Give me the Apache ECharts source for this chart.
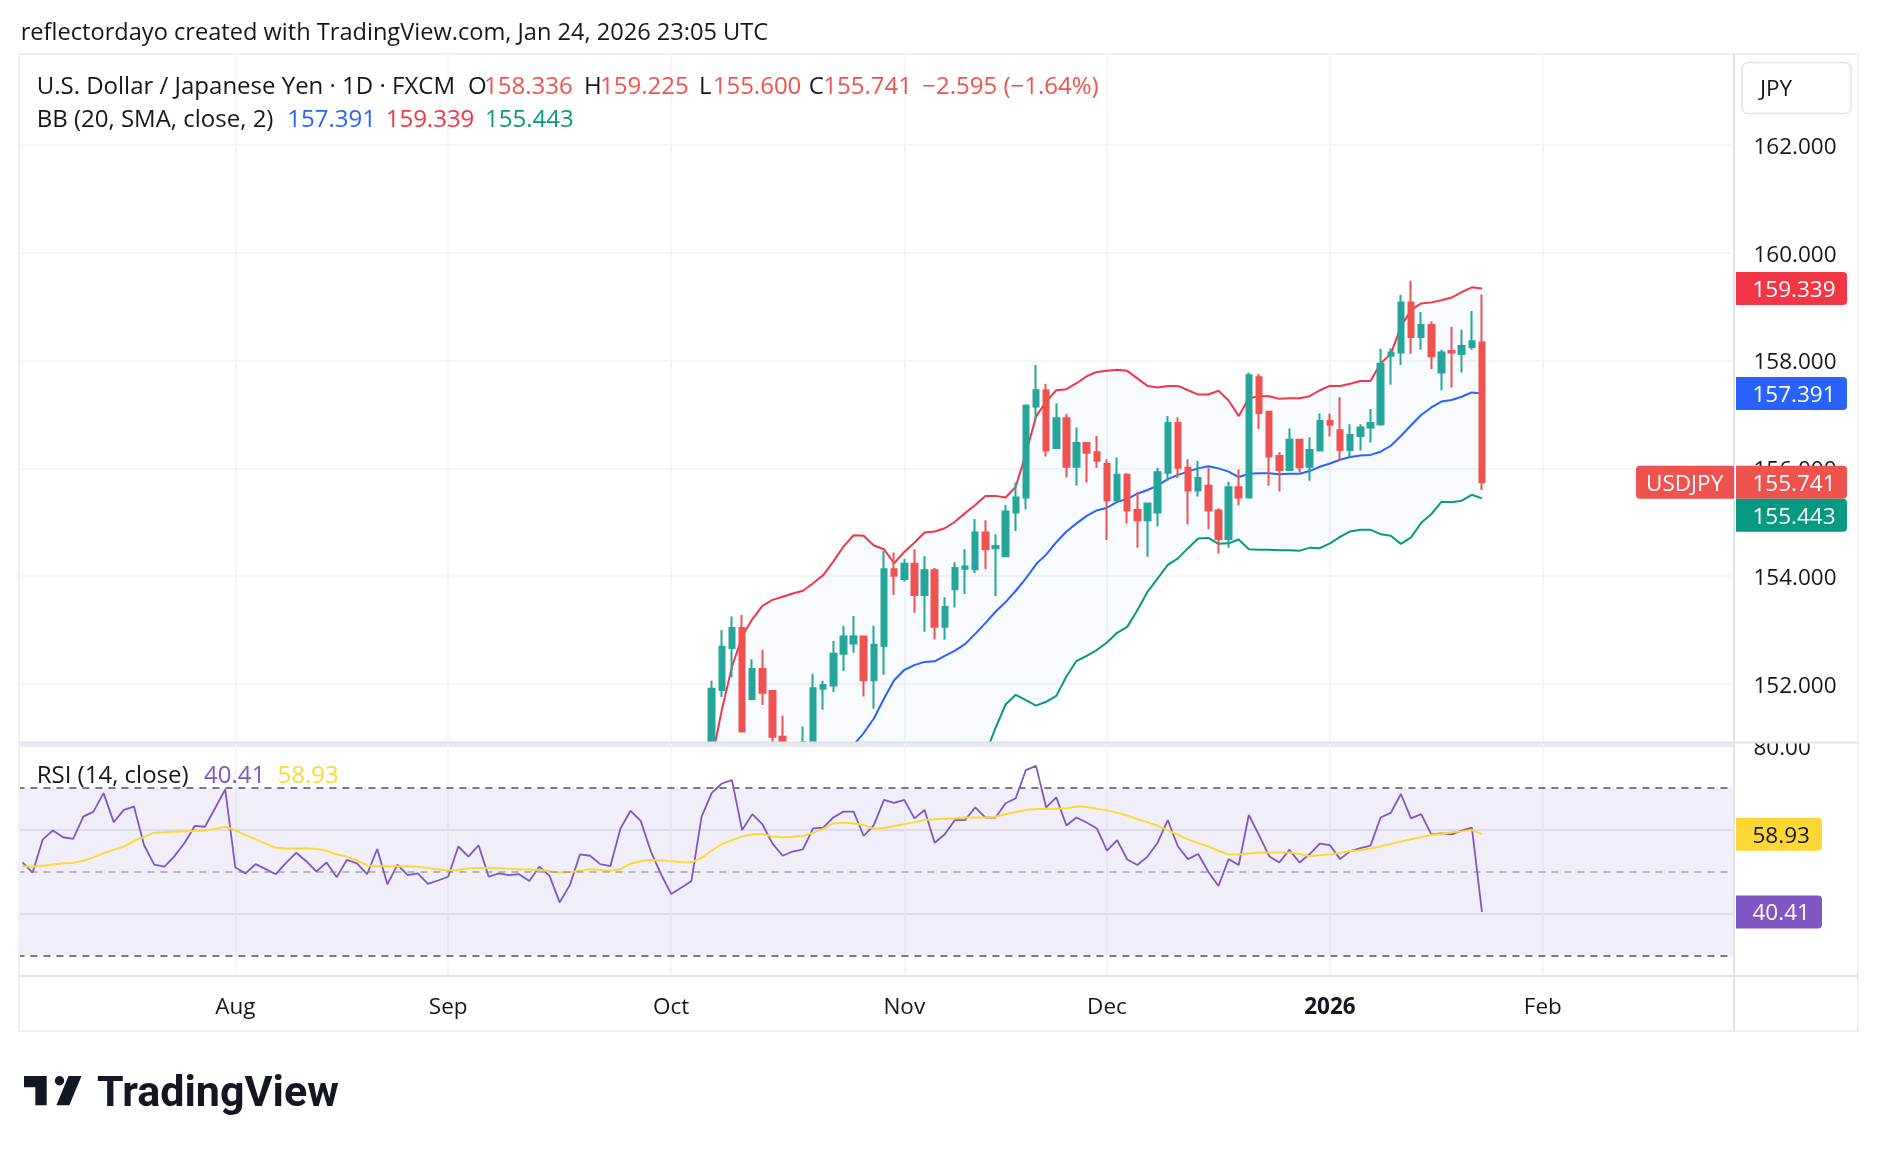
<!DOCTYPE html>
<html>
<head>
<meta charset="utf-8">
<title>USDJPY 1D</title>
<script src="https://cdn.jsdelivr.net/npm/echarts@6.0.0/dist/echarts.min.js"></script>
<style>
  html, body { margin: 0; padding: 0; background: #fff; }
  #main { width: 1878px; height: 1152px; }
</style>
</head>
<body>
<div id="main"></div>
<script>
// 颜色、字体
const TXT = '#131722'
const GRID_COLOR = '#f0f3fa'
const SEP_COLOR = '#e0e3eb'
const UP = '#26a69a'
const DOWN = '#ef5350'
const FAMILY = '"Open Sans", "Noto Sans", sans-serif'
const FONT = '24px ' + FAMILY

// 主图价格范围（可见窗口）
const PRICE_MIN = 150.924
const PRICE_MAX = 163.688

// 日期：从 2025-07-03 起的交易日（跳过 12-25、01-01）
const skipDays = ['2025-12-25', '2026-01-01']
const monthNames = ['Jan', 'Feb', 'Mar', 'Apr', 'May', 'Jun', 'Jul', 'Aug', 'Sep', 'Oct', 'Nov', 'Dec']

// K 线 [open, close, low, high]，2025-10-07 ~ 2026-01-23
const FIRST_BAR = 68
const ohlc = [
  [150.60, 151.91, 150.50, 152.06],
  [151.89, 152.69, 151.76, 153.00],
  [152.67, 153.04, 152.12, 153.25],
  [153.04, 151.12, 151.10, 153.28],
  [151.72, 152.28, 151.70, 152.46],
  [152.28, 151.84, 151.61, 152.63],
  [151.87, 151.02, 150.85, 151.89],
  [151.02, 150.70, 150.50, 151.41],
  [150.70, 150.45, 150.25, 150.85],
  [150.40, 150.85, 150.20, 151.21],
  [150.85, 151.92, 150.70, 152.19],
  [151.91, 151.98, 151.52, 152.06],
  [151.97, 152.56, 151.85, 152.80],
  [152.56, 152.88, 152.24, 153.08],
  [152.75, 152.88, 152.58, 153.26],
  [152.88, 152.07, 151.77, 152.90],
  [152.07, 152.73, 151.54, 153.08],
  [152.71, 154.13, 152.17, 154.47],
  [154.13, 154.01, 153.65, 154.44],
  [153.95, 154.23, 153.90, 154.32],
  [154.23, 153.65, 153.32, 154.50],
  [153.65, 154.11, 152.97, 154.37],
  [154.11, 153.06, 152.83, 154.15],
  [153.06, 153.43, 152.82, 153.61],
  [153.76, 154.15, 153.42, 154.26],
  [154.14, 154.18, 153.67, 154.50],
  [154.13, 154.81, 154.06, 155.06],
  [154.81, 154.50, 154.13, 155.04],
  [154.52, 154.56, 153.63, 154.78],
  [154.37, 155.20, 154.35, 155.32],
  [155.18, 155.46, 154.84, 155.74],
  [155.46, 157.16, 155.24, 157.19],
  [157.15, 157.45, 156.90, 157.92],
  [157.45, 156.33, 156.22, 157.57],
  [156.38, 156.93, 156.36, 157.21],
  [156.93, 156.03, 155.83, 157.01],
  [156.03, 156.47, 155.68, 156.76],
  [156.47, 156.29, 155.74, 156.48],
  [156.30, 156.14, 156.01, 156.60],
  [156.08, 155.41, 154.67, 156.17],
  [155.41, 155.88, 155.40, 156.20],
  [155.88, 155.22, 154.98, 155.91],
  [155.23, 155.04, 154.53, 155.56],
  [155.04, 155.35, 154.36, 155.36],
  [155.18, 155.93, 154.92, 156.01],
  [155.92, 156.84, 155.77, 156.97],
  [156.84, 156.01, 155.82, 156.95],
  [156.01, 155.59, 154.96, 156.17],
  [155.59, 155.82, 155.48, 156.14],
  [155.68, 155.22, 154.87, 156.01],
  [155.22, 154.69, 154.42, 155.26],
  [154.69, 155.65, 154.53, 155.75],
  [155.65, 155.46, 155.31, 155.98],
  [155.46, 157.73, 155.45, 157.78],
  [157.69, 157.03, 156.73, 157.75],
  [157.05, 156.22, 155.68, 157.07],
  [156.23, 155.97, 155.57, 156.30],
  [155.97, 156.53, 155.96, 156.74],
  [156.53, 156.02, 155.93, 156.55],
  [156.03, 156.34, 155.77, 156.58],
  [156.33, 156.88, 156.32, 157.02],
  [156.88, 156.81, 156.59, 157.02],
  [156.71, 156.34, 156.14, 157.32],
  [156.34, 156.62, 156.21, 156.82],
  [156.60, 156.76, 156.33, 156.82],
  [156.76, 156.84, 156.48, 157.10],
  [156.82, 157.94, 156.79, 158.22],
  [158.09, 158.15, 157.55, 158.23],
  [158.15, 159.08, 157.92, 159.22],
  [159.08, 158.44, 158.12, 159.48],
  [158.44, 158.66, 158.20, 158.90],
  [158.66, 158.08, 157.84, 158.73],
  [157.78, 158.15, 157.45, 158.20],
  [158.18, 158.15, 157.50, 158.63],
  [158.12, 158.27, 157.78, 158.57],
  [158.25, 158.36, 158.20, 158.92],
  [158.336, 155.741, 155.600, 159.225]
]

// 布林带（上轨、下轨与 K 线同起点；中轨从第 15 根开始）
const bbUpper = [
  150.59, 151.52, 152.32, 152.88, 153.20, 153.45, 153.56, 153.62, 153.68, 153.73,
  153.87, 154.02, 154.27, 154.55, 154.76, 154.75, 154.57, 154.50, 154.24, 154.45,
  154.62, 154.81, 154.83, 154.89, 155.01, 155.17, 155.32, 155.49, 155.49, 155.46,
  155.66, 156.28, 156.96, 157.24, 157.45, 157.47, 157.58, 157.71, 157.79, 157.81,
  157.83, 157.81, 157.67, 157.53, 157.50, 157.53, 157.53, 157.45, 157.37, 157.37,
  157.44, 157.26, 156.97, 157.30, 157.34, 157.34, 157.29, 157.30, 157.30, 157.34,
  157.45, 157.53, 157.53, 157.57, 157.62, 157.62, 157.95, 158.12, 158.63, 158.94,
  159.06, 159.08, 159.12, 159.17, 159.27, 159.36, 159.339
]
const BASIS_START = FIRST_BAR + 14
const bbBasis = [
  150.87, 151.09, 151.36, 151.73, 152.07, 152.26, 152.35, 152.41, 152.42, 152.52,
  152.62, 152.74, 152.93, 153.13, 153.34, 153.52, 153.73, 153.96, 154.22, 154.40,
  154.63, 154.83, 154.98, 155.12, 155.22, 155.27, 155.38, 155.43, 155.53, 155.60,
  155.68, 155.80, 155.88, 155.94, 156.00, 156.04, 156.00, 155.94, 155.84, 155.90,
  155.91, 155.91, 155.89, 155.90, 155.90, 155.95, 156.03, 156.09, 156.16, 156.21,
  156.24, 156.25, 156.31, 156.42, 156.60, 156.80, 156.99, 157.13, 157.24, 157.27,
  157.33, 157.41, 157.391
]
const bbLower = [
  146.0, 145.9, 145.7, 145.8, 145.8, 145.9, 146.0, 146.1, 146.2, 146.3,
  146.4, 146.5, 146.6, 146.8, 147.0, 147.4, 148.1, 148.9, 149.9, 150.1,
  150.1, 150.0, 150.0, 150.1, 150.2, 150.3, 150.5, 150.70, 151.18, 151.62,
  151.80, 151.70, 151.60, 151.67, 151.78, 152.14, 152.43, 152.52, 152.63, 152.77,
  152.95, 153.06, 153.37, 153.71, 153.96, 154.21, 154.33, 154.52, 154.70, 154.71,
  154.60, 154.61, 154.68, 154.50, 154.49, 154.49, 154.48, 154.48, 154.47, 154.53,
  154.52, 154.61, 154.73, 154.83, 154.86, 154.86, 154.78, 154.75, 154.60, 154.72,
  154.99, 155.15, 155.38, 155.37, 155.40, 155.51, 155.443
]

// RSI(14) 与其均线，从第一个日期开始
const rsiValues = [
  52.2, 49.8, 57.7, 59.8, 58.2, 57.8, 63.1, 64.3, 68.7, 61.8,
  64.7, 65.5, 56.3, 51.7, 51.2, 53.7, 56.9, 60.9, 60.7, 65.1,
  69.6, 51.0, 49.6, 51.8, 50.6, 49.4, 52.1, 54.5, 52.5, 50.0,
  52.2, 48.7, 52.8, 52.0, 49.4, 55.4, 47.0, 51.7, 49.2, 49.6,
  47.1, 47.9, 48.8, 56.0, 53.6, 56.3, 48.8, 49.6, 49.2, 49.4,
  47.8, 51.2, 49.0, 42.7, 46.8, 54.1, 53.8, 51.8, 51.3, 60.3,
  64.5, 62.1, 54.8, 49.4, 44.7, 46.2, 47.8, 63.1, 68.7, 71.0,
  71.8, 59.9, 63.7, 61.3, 56.7, 53.8, 54.8, 55.3, 60.3, 60.5,
  62.9, 64.3, 64.3, 58.5, 61.1, 67.1, 66.4, 67.1, 62.7, 64.7,
  56.9, 58.9, 62.3, 62.3, 65.3, 62.9, 62.9, 66.3, 67.5, 74.2,
  75.2, 65.3, 67.7, 61.0, 62.9, 61.7, 60.3, 55.0, 57.5, 52.9,
  51.6, 53.6, 56.9, 62.3, 56.0, 53.0, 54.2, 50.0, 46.6, 53.0,
  51.6, 63.5, 58.7, 53.7, 52.2, 55.2, 52.2, 54.2, 56.7, 56.3,
  53.0, 54.9, 55.6, 56.2, 62.9, 64.0, 68.5, 62.7, 63.7, 58.9,
  59.1, 58.9, 59.8, 60.5, 40.41
]
const rsiMa = [
  51.3, 51.2, 51.4, 51.7, 52.0, 52.1, 52.6, 53.4, 54.4, 55.2,
  56.0, 57.3, 58.3, 59.3, 59.4, 59.5, 59.6, 59.7, 59.8, 60.2,
  60.7, 59.9, 58.7, 57.7, 56.7, 55.7, 55.5, 55.5, 55.6, 55.4,
  55.0, 54.1, 53.6, 52.7, 51.5, 51.3, 51.3, 51.3, 51.3, 51.2,
  50.9, 50.6, 50.3, 50.4, 50.8, 50.9, 50.9, 50.8, 50.7, 50.6,
  50.5, 50.4, 50.1, 49.8, 49.9, 50.2, 50.6, 50.4, 50.2, 50.6,
  51.9, 52.5, 52.8, 52.7, 52.5, 52.3, 52.2, 53.3, 55.0, 56.6,
  57.5, 58.4, 58.9, 59.0, 58.4, 58.2, 58.3, 58.5, 59.3, 60.2,
  61.5, 61.7, 61.5, 61.1, 60.2, 60.4, 60.9, 61.3, 61.8, 62.3,
  62.5, 62.6, 62.7, 62.9, 62.9, 62.9, 63.1, 63.7, 64.2, 64.7,
  64.9, 64.9, 65.0, 65.1, 65.5, 65.4, 65.0, 64.6, 64.0, 63.4,
  62.5, 61.8, 60.9, 59.9, 58.8, 57.7, 56.8, 56.0, 55.0, 54.1,
  54.1, 54.4, 54.5, 54.5, 54.6, 54.6, 54.2, 53.7, 53.9, 54.1,
  54.5, 54.9, 55.1, 55.5, 56.0, 56.6, 57.2, 57.7, 58.2, 58.8,
  59.0, 59.4, 59.6, 59.9, 58.93
]

function makeDates() {
  const out = []
  const d = new Date(Date.UTC(2025, 6, 3))
  while (out.length < 170) {
    const wd = d.getUTCDay()
    const s = d.toISOString().slice(0, 10)
    if (wd !== 0 && wd !== 6 && skipDays.indexOf(s) < 0) out.push(s)
    d.setUTCDate(d.getUTCDate() + 1)
  }
  return out
}
const dates = makeDates()

// 每月第一根 K 线 -> 标签
const monthStart = {}
dates.forEach((s, i) => {
  if (i === 0 || s.slice(0, 7) === dates[i - 1].slice(0, 7)) return
  const m = +s.slice(5, 7)
  monthStart[i] = m === 1 ? s.slice(0, 4) : monthNames[m - 1]
})
const isMonthStart = (index) => monthStart[index] !== undefined

function pad(start, arr) {
  return dates.map((d, i) => (i >= start && i < start + arr.length) ? arr[i - start] : '-')
}
const last = (arr) => arr[arr.length - 1]

// candlestick 的 clip 只会整根剔除，窗口下沿以下的部分这里截掉
const candleData = ohlc
  .map((r, k) => [FIRST_BAR + k].concat(r.map(v => Math.max(v, PRICE_MIN))))
  .filter(d => d[4] > PRICE_MIN)
const bandWidth = bbUpper.map((u, k) => +(u - bbLower[k]).toFixed(3))

const lineBase = {
  type: 'line',
  symbol: 'none',
  showSymbol: false,
  silent: true,
  clip: true,
  xAxisIndex: 0,
  yAxisIndex: 0
}

const axisLabelStyle = {
  color: TXT,
  fontSize: 22.5,
  fontFamily: FAMILY
}
const tickRich = { v: { padding: [5, 0, 0, 0], color: TXT, fontSize: 22.5, fontFamily: FAMILY } }

var option = {
  animation: false,
  backgroundColor: '#ffffff',
  grid: [
    { left: 17.43, top: 54, width: 1723, height: 688 },
    { left: 17.43, top: 744, width: 1723, height: 232 }
  ],
  xAxis: [
    {
      type: 'category',
      gridIndex: 0,
      data: dates,
      boundaryGap: true,
      axisLine: { show: false },
      axisTick: { show: false },
      axisLabel: { show: false },
      splitLine: { show: true, interval: isMonthStart, alignWithLabel: true, lineStyle: { color: GRID_COLOR, width: 1.5 } }
    },
    {
      type: 'category',
      gridIndex: 1,
      data: dates,
      boundaryGap: true,
      axisLine: { show: false },
      axisTick: { show: false },
      axisLabel: Object.assign({
        show: true,
        interval: isMonthStart,
        margin: 20,
        formatter: (value, index) => {
          const t = monthStart[index]
          return /^\d{4}$/.test(t) ? '{b|' + t + '}' : t
        },
        rich: { b: { fontWeight: 'bold', fontSize: 22.5, fontFamily: FAMILY, color: TXT } }
      }, axisLabelStyle),
      splitLine: { show: true, interval: isMonthStart, alignWithLabel: true, lineStyle: { color: GRID_COLOR, width: 1.5 } }
    }
  ],
  yAxis: [
    {
      type: 'value',
      gridIndex: 0,
      position: 'right',
      min: PRICE_MIN,
      max: PRICE_MAX,
      splitNumber: 6,
      axisLine: { show: false },
      axisTick: { show: false },
      axisLabel: Object.assign({
        margin: 13,
        showMinLabel: false,
        showMaxLabel: false,
        formatter: (v) => '{v|' + v.toFixed(3) + '}',
        rich: tickRich
      }, axisLabelStyle),
      splitLine: { lineStyle: { color: GRID_COLOR, width: 1.5 } }
    },
    {
      type: 'value',
      gridIndex: 1,
      position: 'right',
      min: 25.17,
      max: 80.4,
      splitNumber: 3,
      axisLine: { show: false },
      axisTick: { show: false },
      axisLabel: Object.assign({
        margin: 13,
        showMinLabel: false,
        showMaxLabel: false,
        formatter: (v) => '{v|' + v.toFixed(2) + '}',
        rich: tickRich
      }, axisLabelStyle),
      splitLine: { lineStyle: { color: '#e4e1ee', width: 1.5 } }
    }
  ],
  series: [
    // 布林带填充：下轨作底 + 带宽堆叠
    Object.assign({}, lineBase, {
      name: 'bbBase', stack: 'bb', data: pad(FIRST_BAR, bbLower),
      lineStyle: { opacity: 0 }, z: 1
    }),
    Object.assign({}, lineBase, {
      name: 'bbFill', stack: 'bb', data: pad(FIRST_BAR, bandWidth),
      lineStyle: { opacity: 0 }, areaStyle: { color: 'rgba(33,150,243,0.05)' }, z: 1
    }),
    Object.assign({}, lineBase, {
      name: 'Upper', data: pad(FIRST_BAR, bbUpper),
      lineStyle: { color: '#F23645', width: 2 }, z: 3
    }),
    Object.assign({}, lineBase, {
      name: 'Basis', data: pad(BASIS_START, bbBasis),
      lineStyle: { color: '#2962FF', width: 2 }, z: 3
    }),
    Object.assign({}, lineBase, {
      name: 'Lower', data: pad(FIRST_BAR, bbLower),
      lineStyle: { color: '#089981', width: 2 }, z: 3
    }),
    {
      name: 'USDJPY',
      type: 'candlestick',
      xAxisIndex: 0,
      yAxisIndex: 0,
      data: candleData,
      encode: { x: 0, y: [1, 2, 3, 4] },
      barWidth: 6,
      clip: true,
      silent: true,
      z: 4,
      itemStyle: {
        color: UP,
        color0: DOWN,
        borderColor: UP,
        borderColor0: DOWN,
        borderWidth: 2
      }
    },
    {
      name: 'RSI',
      type: 'line',
      xAxisIndex: 1,
      yAxisIndex: 1,
      data: rsiValues,
      symbol: 'none',
      showSymbol: false,
      silent: true,
      z: 3,
      lineStyle: { color: '#7E57C2', width: 1.8 },
      markArea: {
        silent: true,
        itemStyle: { color: 'rgba(126,87,194,0.1)' },
        data: [[{ yAxis: 30 }, { yAxis: 70 }]]
      },
      markLine: {
        silent: true,
        symbol: 'none',
        label: { show: false },
        data: [
          { yAxis: 70, lineStyle: { color: '#787B86', type: [7, 6], width: 2 } },
          { yAxis: 50, lineStyle: { color: 'rgba(120,123,134,0.5)', type: [7, 6], width: 2 } },
          { yAxis: 30, lineStyle: { color: '#787B86', type: [7, 6], width: 2 } }
        ]
      }
    },
    {
      name: 'RSI MA',
      type: 'line',
      xAxisIndex: 1,
      yAxisIndex: 1,
      data: rsiMa,
      symbol: 'none',
      showSymbol: false,
      silent: true,
      z: 4,
      lineStyle: { color: '#FDD835', width: 2 }
    }
  ]
}

var myChart = echarts.init(document.getElementById('main'))
myChart.setOption(option)

// ---- 叠加的文字、价格标签、边框 ----
function text(str, x, y, fill, font) {
  return {
    type: 'text', x: x, y: y, z: 120, silent: true,
    style: {
      text: str, fill: fill, font: font || FONT,
      align: 'left', verticalAlign: 'middle', textAlign: 'left', textVerticalAlign: 'middle'
    }
  }
}
function rect(x, y, w, h, fill, r, z, stroke) {
  return {
    type: 'rect', z: z || 110, silent: true,
    shape: { x: x, y: y, width: w, height: h, r: r || 0 },
    style: stroke ? { fill: fill, stroke: stroke, lineWidth: 1.5 } : { fill: fill }
  }
}
function line(x1, y1, x2, y2, color, w) {
  return {
    type: 'line', z: 100, silent: true,
    shape: { x1: x1, y1: y1, x2: x2, y2: y2 },
    style: { stroke: color, lineWidth: w }
  }
}

const els = []

// 盖住网格越过价格轴分隔线的部分
els.push(rect(1735, 54, 7, 922, '#ffffff', 0, 90))
els.push(rect(0, 54, 18.5, 922, '#ffffff', 0, 90))
els.push(rect(1736, 729, 121, 14, '#ffffff', 0, 90))

// 边框与分隔线
els.push({
  type: 'rect', z: 100, silent: true,
  shape: { x: 19, y: 54, width: 1839, height: 977 },
  style: { fill: 'none', stroke: '#eef0f5', lineWidth: 2 }
})
els.push(line(19, 742.5, 1858, 742.5, SEP_COLOR, 2))
els.push(line(1734, 54, 1734, 1031, SEP_COLOR, 2))
els.push(line(19, 976, 1858, 976, SEP_COLOR, 2))

// 标题与图例
els.push(text('reflectordayo created with TradingView.com, Jan 24, 2026 23:05 UTC', 20.7, 33, TXT, '23.6px ' + FAMILY))
const lastBar = last(ohlc)
const legend1 = [
  ['U.S. Dollar / Japanese Yen \u00b7 1D \u00b7 FXCM', 36.7, TXT],
  ['O', 468, TXT], [lastBar[0].toFixed(3), 484, DOWN],
  ['H', 584, TXT], [lastBar[3].toFixed(3), 600, DOWN],
  ['L', 699, TXT], [lastBar[2].toFixed(3), 712.7, DOWN],
  ['C', 808.7, TXT], [lastBar[1].toFixed(3), 823.3, DOWN],
  ['\u22122.595 (\u22121.64%)', 922.3, DOWN]
]
legend1.forEach(p => els.push(text(p[0], p[1], 87.3, p[2])))
const legend2 = [
  ['BB (20, SMA, close, 2)', 36.7, TXT],
  [last(bbBasis).toFixed(3), 287.3, '#2962FF'],
  [last(bbUpper).toFixed(3), 385.7, '#F23645'],
  [last(bbLower).toFixed(3), 485, '#089981']
]
legend2.forEach(p => els.push(text(p[0], p[1], 120.3, p[2])))
els.push(text('RSI (14, close)', 36.7, 776, TXT))
els.push(text(last(rsiValues).toFixed(2), 204, 776, '#7E57C2'))
els.push(text(last(rsiMa).toFixed(2), 277.5, 776, '#FDD835'))

// JPY 按钮
els.push(rect(1742, 62.5, 109, 51, '#ffffff', 6, 110, SEP_COLOR))
els.push(text('JPY', 1760, 90, TXT, '22.5px ' + FAMILY))

// 价格轴上的数值标签
const BOX_H = 33
const BOX_FONT = '22.5px ' + FAMILY
const priceTags = [
  { v: last(bbUpper), color: '#F23645' },
  { v: last(bbBasis), color: '#2962FF' },
  { v: lastBar[1], color: DOWN, name: 'USDJPY' },
  { v: last(bbLower), color: '#089981' }
].sort((a, b) => b.v - a.v)
let prevBottom = -Infinity
priceTags.forEach(t => {
  let cy = myChart.convertToPixel({ yAxisIndex: 0 }, t.v)
  if (cy - BOX_H / 2 < prevBottom) cy = prevBottom + BOX_H / 2
  prevBottom = cy + BOX_H / 2
  els.push(rect(1736, cy - BOX_H / 2, 111, BOX_H, t.color, [0, 4, 4, 0]))
  els.push(text(t.v.toFixed(3), 1752.5, cy + 2, '#ffffff', BOX_FONT))
  if (t.name) {
    els.push(rect(1636, cy - BOX_H / 2, 98, BOX_H, t.color, [4, 0, 0, 4]))
    els.push(text(t.name, 1646, cy + 2, '#ffffff', BOX_FONT))
  }
})
const rsiTags = [
  { v: last(rsiMa), color: '#FDD835', fg: TXT },
  { v: last(rsiValues), color: '#7E57C2', fg: '#ffffff' }
]
rsiTags.forEach(t => {
  const cy = myChart.convertToPixel({ yAxisIndex: 1 }, t.v)
  els.push(rect(1736, cy - BOX_H / 2, 86, BOX_H, t.color, [0, 4, 4, 0]))
  els.push(text(t.v.toFixed(2), 1752.5, cy + 2, t.fg, BOX_FONT))
})

// TradingView 标志
const s = 1.62
const ox = 24
const oy = 1069.5
const P = (x, y) => [ox + x * s, oy + y * s]
els.push({ type: 'polygon', z: 110, silent: true, shape: { points: [P(0, 4), P(14, 4), P(14, 22), P(7, 22), P(7, 11), P(0, 11)] }, style: { fill: TXT } })
els.push({ type: 'polygon', z: 110, silent: true, shape: { points: [P(28, 22), P(20, 22), P(27.5, 4), P(35.5, 4)] }, style: { fill: TXT } })
els.push({ type: 'circle', z: 110, silent: true, shape: { cx: 59.5, cy: 1080.7, r: 4.7 }, style: { fill: TXT } })
els.push(text('TradingView', 97, 1095, TXT, 'bold 43px Roboto'))

myChart.setOption({ graphic: { elements: els } })
</script>
</body>
</html>
